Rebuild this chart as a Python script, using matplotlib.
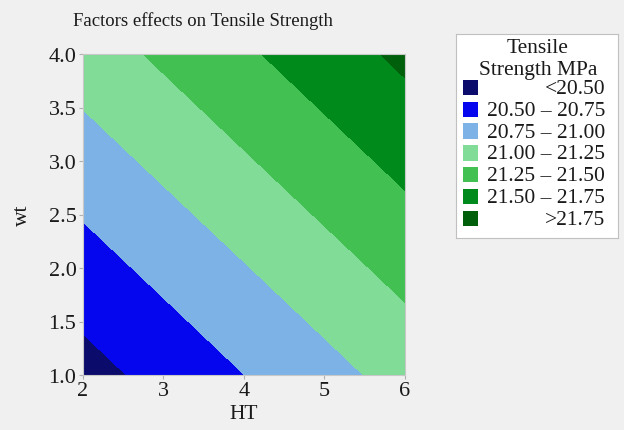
import numpy as np
import matplotlib
matplotlib.use("Agg")
import matplotlib.pyplot as plt
from matplotlib.patches import Rectangle

plt.rcParams['font.family'] = ['Liberation Serif', 'DejaVu Serif']

# Data: predicted tensile strength on a grid
ht = [2, 3, 4, 5, 6]
wt = [1, 2, 3, 4]
strength = [
    [20.408, 20.578, 20.748, 20.918, 21.088],
    [20.646, 20.816, 20.986, 21.156, 21.326],
    [20.885, 21.055, 21.225, 21.395, 21.565],
    [21.123, 21.293, 21.463, 21.633, 21.803],
]
levels = [20.0, 20.50, 20.75, 21.00, 21.25, 21.50, 21.75, 22.5]
band_labels = ["<20.50", "20.50 \u2013 20.75", "20.75 \u2013 21.00", "21.00 \u2013 21.25",
               "21.25 \u2013 21.50", "21.50 \u2013 21.75", ">21.75"]
band_colors = ["#0b0b6c", "#0606ee", "#7db2e6", "#80dc96", "#43c052", "#008a1c", "#005f0a"]
xticks = [2, 3, 4, 5, 6]
yticks = [1.0, 1.5, 2.0, 2.5, 3.0, 3.5, 4.0]

W, H = 624, 431
bg = "#f0f0f0"
fig = plt.figure(figsize=(W / 100, H / 100), dpi=100, facecolor=bg)

ax = fig.add_axes([82.7 / W, 1 - 376 / H, (405 - 82.7) / W, (376 - 55) / H])
ax.set_facecolor(bg)
X, Y = np.meshgrid(ht, wt)
ax.contourf(X, Y, np.array(strength), levels=levels, colors=band_colors)
ax.set_xlim(2, 6)
ax.set_ylim(1, 4)
ax.set_xticks(xticks)
ax.set_xticklabels([str(v) for v in xticks])
ax.set_yticks(yticks)
ax.set_yticklabels([f"{v:.1f}" for v in yticks])
for s in ax.spines.values():
    s.set_color("#c8c8c8")
    s.set_linewidth(0.8)
ax.tick_params(direction="out", length=3, width=0.8, color="#b0b0b0",
               labelsize=16, pad=1.5, labelcolor="#1a1a1a")
ax.set_xlabel("HT", fontsize=15.5, labelpad=3, color="#1a1a1a")
ax.set_ylabel("wt", fontsize=15.5, labelpad=12, color="#1a1a1a")
fig.text(203 / W, 1 - 21 / H, "Factors effects on Tensile Strength", ha="center", va="center",
         fontsize=13.5, color="#1a1a1a")

# Legend panel
lx0, lx1, ly0, ly1 = 456, 618, 35, 239
lax = fig.add_axes([lx0 / W, 1 - ly1 / H, (lx1 - lx0) / W, (ly1 - ly0) / H])
lax.set_xlim(lx0, lx1)
lax.set_ylim(ly1, ly0)
lax.set_facecolor("white")
lax.set_xticks([])
lax.set_yticks([])
for s in lax.spines.values():
    s.set_color("#c0c0c0")
    s.set_linewidth(0.8)
lax.text(538, 48, "Tensile", ha="center", va="center", fontsize=15.5, color="#1a1a1a")
lax.text(538, 70, "Strength MPa", ha="center", va="center", fontsize=15.5, color="#1a1a1a")
for i, (lab, col) in enumerate(zip(band_labels, band_colors)):
    yc = 88.5 + i * 21.8
    lax.add_patch(Rectangle((462.5, yc - 7.8), 15.5, 15.6, facecolor=col, edgecolor="none"))
    lax.text(605, yc + 1, lab, ha="right", va="center", fontsize=15.5, color="#1a1a1a")

fig.savefig("out.png", dpi=100, facecolor=bg)
